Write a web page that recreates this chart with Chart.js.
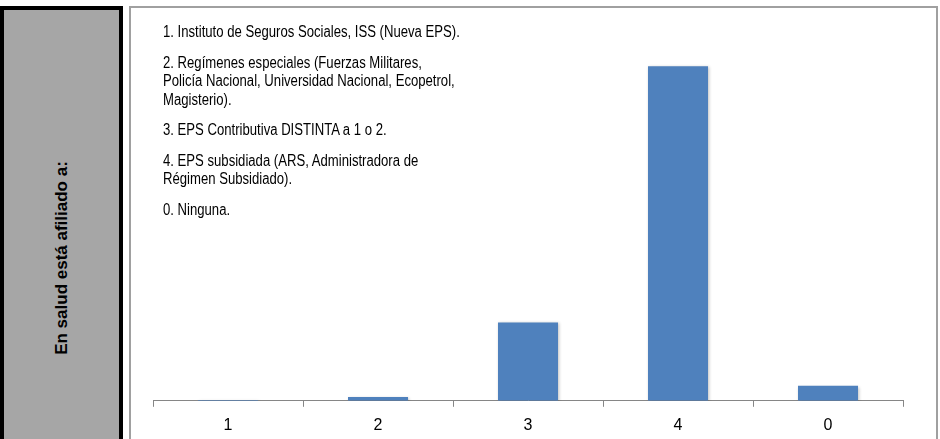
<!DOCTYPE html>
<html>
<head>
<meta charset="utf-8">
<script src="https://cdn.jsdelivr.net/npm/chart.js@4"></script>
<style>
  html, body { margin: 0; padding: 0; background: #fff; overflow: hidden; }
  body { width: 940px; height: 439px; position: relative; }
  #side {
    position: absolute; left: 0; top: 6px; width: 115px; height: 520px;
    background: #a6a6a6; border: 4px solid #000;
  }
  #side span {
    position: absolute; left: 58px; top: 248px;
    transform: translate(-50%, -50%) rotate(-90deg);
    white-space: nowrap; font: bold 17px "Liberation Sans", Arial, sans-serif; color: #000;
  }
  #frame {
    position: absolute; left: 129px; top: 6px; width: 805px; height: 520px;
    border: 2px solid #a0a0a0;
  }
  #wrap { position: absolute; left: 131px; top: 8px; width: 805px; height: 442px; }
  #notes {
    position: absolute; left: 163px; top: 23px; width: 500px;
    transform: scaleX(0.82); transform-origin: 0 0;
    font: 16px "Liberation Sans", Arial, sans-serif; color: #000; line-height: 18.5px;
    white-space: pre-line;
  }
  #notes p { margin: 0 0 12px 0; }
</style>
</head>
<body>
<div id="side"><span>En salud está afiliado a:</span></div>
<div id="frame"></div>
<div id="wrap"><canvas id="afiliacion"></canvas></div>
<div id="notes"></div>
<script>
const categories = ['1', '2', '3', '4', '0'];
const porcentajes = [0.2, 0.9, 18.1, 77.3, 3.5];
const notas = [
    '1. Instituto de Seguros Sociales, ISS (Nueva EPS).',
    '2. Regímenes especiales (Fuerzas Militares,\nPolicía Nacional, Universidad Nacional, Ecopetrol,\nMagisterio).',
    '3. EPS Contributiva DISTINTA a 1 o 2.',
    '4. EPS subsidiada (ARS, Administradora de\nRégimen Subsidiado).',
    '0. Ninguna.'
];

document.addEventListener('DOMContentLoaded', function () {
    const box = document.getElementById('notes');
    notas.forEach(function (t) {
        const p = document.createElement('p');
        p.textContent = t;
        box.appendChild(p);
    });

    const ctx = document.getElementById('afiliacion');
    const sombra = {
        id: 'sombra',
        beforeDatasetsDraw(chart) {
            chart.ctx.save();
            chart.ctx.shadowColor = 'rgba(0,0,0,0.25)';
            chart.ctx.shadowBlur = 3;
            chart.ctx.shadowOffsetX = 1;
            chart.ctx.shadowOffsetY = 1;
        },
        afterDatasetsDraw(chart) {
            chart.ctx.restore();
        }
    };

    new Chart(ctx, {
        type: 'bar',
        data: {
            labels: categories,
            datasets: [{
                data: porcentajes,
                backgroundColor: '#4f81bd',
                barPercentage: 0.4,
                categoryPercentage: 1
            }]
        },
        options: {
            responsive: true,
            maintainAspectRatio: false,
            animation: false,
            layout: { padding: { left: 22, right: 33, top: 25, bottom: 6 } },
            plugins: {
                legend: { display: false },
                tooltip: { enabled: false }
            },
            scales: {
                x: {
                    grid: {
                        offset: true,
                        drawOnChartArea: false,
                        drawTicks: true,
                        tickLength: 6,
                        color: '#868686'
                    },
                    border: { display: true, color: '#868686', width: 1 },
                    ticks: {
                        color: '#000',
                        padding: 9,
                        font: { family: '"Liberation Sans", Arial, sans-serif', size: 16 }
                    }
                },
                y: {
                    display: false,
                    min: 0,
                    max: 85
                }
            }
        },
        plugins: [sombra]
    });
});
</script>
</body>
</html>
